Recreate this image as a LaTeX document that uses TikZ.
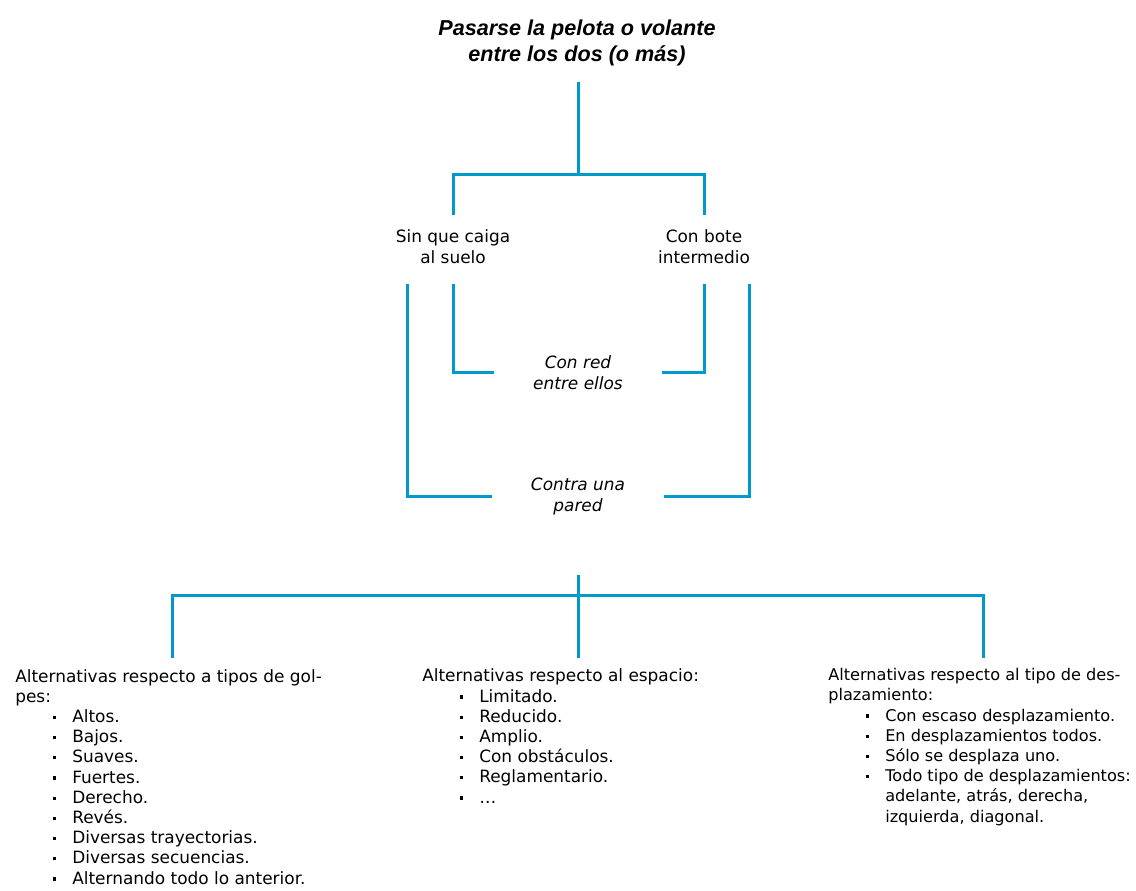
\documentclass[tikz,border=0pt]{standalone}
\usepackage{fontspec}
\setmainfont{DejaVu Sans}
\newfontfamily\titlefont{Liberation Sans}
\usepackage{xcolor}
\definecolor{azulLinea}{RGB}{0,153,204}
\newcommand\itm[1]{\\\hspace*{28.5pt}\makebox[14.25pt][l]{\rule[2.6pt]{2.3pt}{2.3pt}}#1}
\newcommand\cont[1]{\\\hspace*{42.75pt}#1}

\begin{document}
\begin{tikzpicture}[x=0.75pt, y=-0.75pt,
        link/.style={draw=azulLinea, line width=2.25pt},
        txt/.style={font=\fontsize{12.7}{15.15}\selectfont, inner sep=0, align=left, anchor=base west},
        rama/.style={font=\fontsize{12.7}{15.75}\selectfont, inner sep=0, align=center, anchor=base},
        medio/.style={font=\fontsize{12.7}{15.75}\selectfont\itshape, inner xsep=29pt, inner ysep=0, align=center}
    ]
        \useasboundingbox (0,0) rectangle (1136,891);
        % anchor=base sits on the last line of a multi-line node
        \node[font=\titlefont\bfseries\itshape\fontsize{16.2}{20}\selectfont, align=center, anchor=base] (titulo) at (577,62)
            {Pasarse la pelota o volante\\entre los dos (o más)};
        \node[rama] (sin) at (453,264) {Sin que caiga\\al suelo};
        \node[rama] (con) at (704,264) {Con bote\\intermedio};
        \node[medio] (red) at (578,373) {Con red\\entre ellos};
        \node[medio] (pared) at (578,496) {Contra una\\pared};

        \coordinate (inicio) at (578,82);
        \coordinate (reparto) at (578,175);
        \coordinate (sinArriba) at (453,215);
        \coordinate (conArriba) at (704,215);
        \draw[link] (inicio) -- (reparto);
        \draw[link] (sinArriba) |- (reparto) -| (conArriba);

        \coordinate (extIzq) at (407,284);
        \coordinate (intIzq) at (453,284);
        \coordinate (intDer) at (704,284);
        \coordinate (extDer) at (749,284);
        \draw[link] (intIzq) |- (red.west);
        \draw[link] (intDer) |- (red.east);
        \draw[link] (extIzq) |- (pared.west);
        \draw[link] (extDer) |- (pared.east);

        \coordinate (bajoArriba) at (578,575);
        \coordinate (bajoAbajo) at (578,658);
        \coordinate (cruce) at (578,595);
        \coordinate (golpesArriba) at (172,658);
        \coordinate (despArriba) at (983,658);
        \draw[link] (bajoArriba) -- (bajoAbajo);
        \draw[link] (golpesArriba) |- (cruce) -| (despArriba);

        \node[txt] (golpes) at (15,884) {Alternativas respecto a tipos de gol-\\pes:\itm{Altos.}\itm{Bajos.}\itm{Suaves.}\itm{Fuertes.}\itm{Derecho.}\itm{Revés.}\itm{Diversas trayectorias.}\itm{Diversas secuencias.}\itm{Alternando todo lo anterior.}};
        \node[txt] (espacio) at (422,803) {Alternativas respecto al espacio:\itm{Limitado.}\itm{Reducido.}\itm{Amplio.}\itm{Con obstáculos.}\itm{Reglamentario.}\itm{…}};
        \node[txt, font=\fontsize{12.1}{15.15}\selectfont] (desplaz) at (828,822) {Alternativas respecto al tipo de des-\\plazamiento:\itm{Con escaso desplazamiento.}\itm{En desplazamientos todos.}\itm{Sólo se desplaza uno.}\itm{Todo tipo de desplazamientos:}\cont{adelante, atrás, derecha,}\cont{izquierda, diagonal.}};
    \end{tikzpicture}
\end{document}
